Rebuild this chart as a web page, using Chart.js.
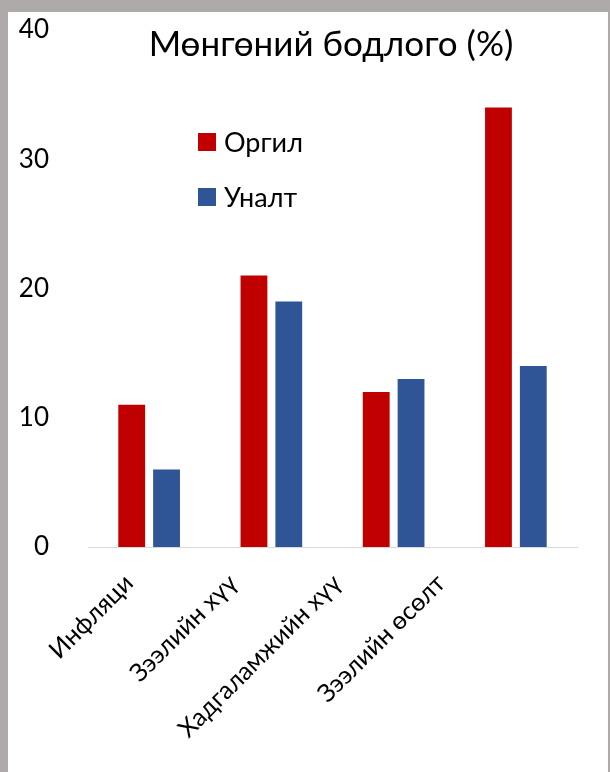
<!DOCTYPE html>
<html>
<head>
<meta charset="utf-8">
<script src="https://cdn.jsdelivr.net/npm/chart.js@4/dist/chart.umd.min.js"></script>
<style>
    html, body { margin: 0; padding: 0; background: #adaaa9; }
    #wrap { position: absolute; left: 8px; top: 12px; width: 600px; height: 760px; background: #fff; }
</style>
</head>
<body>
<div id="wrap"><canvas id="chart" width="600" height="760"></canvas></div>
<script>
const categories = ['Инфляци', 'Зээлийн хүү', 'Хадгаламжийн хүү', 'Зээлийн өсөлт'];
const orgilValues = [11, 21, 12, 34];
const unaltValues = [6, 19, 13, 14];
const seriesNames = ['Оргил', 'Уналт'];
const titleText = 'Мөнгөний бодлого (%)';

const FONT = "Lato, 'Noto Sans', sans-serif";

// title, vertical legend and the slanted category labels (the original
// spaces its labels a bit tighter than the bars, so they are drawn here)
const overlay = {
    id: 'overlay',
    afterDraw(chart) {
        const ctx = chart.ctx;
        const area = chart.chartArea;
        ctx.save();
        ctx.fillStyle = '#000';
        ctx.font = `35px ${FONT}`;
        ctx.textAlign = 'center';
        ctx.textBaseline = 'middle';
        ctx.fillText(titleText, 323, 33);

        ctx.font = `27px ${FONT}`;
        ctx.textAlign = 'left';
        chart.data.datasets.forEach((ds, i) => {
            const y = 130 + i * 55;
            ctx.fillStyle = ds.backgroundColor;
            ctx.fillRect(190, y - 9, 18, 18);
            ctx.fillStyle = '#000';
            ctx.fillText(ds.label, 216, y + 1);
        });

        ctx.font = `25px ${FONT}`;
        ctx.textAlign = 'right';
        ctx.textBaseline = 'middle';
        chart.data.labels.forEach((lab, i) => {
            ctx.save();
            ctx.translate(area.left + 41 + i * 104, area.bottom + 32);
            ctx.rotate(-Math.PI / 4);
            ctx.fillText(lab, 0, 0);
            ctx.restore();
        });
        ctx.restore();
    }
};

new Chart(document.getElementById('chart'), {
    type: 'bar',
    data: {
        labels: categories,
        datasets: [
            { label: seriesNames[0], data: orgilValues, backgroundColor: '#c00000' },
            { label: seriesNames[1], data: unaltValues, backgroundColor: '#2f5597' }
        ]
    },
    options: {
        responsive: false,
        animation: false,
        devicePixelRatio: 1,
        categoryPercentage: 0.57,
        barPercentage: 0.77,
        layout: { padding: { top: 18, right: 31, left: 0, bottom: 0 } },
        plugins: {
            legend: { display: false },
            title: { display: false },
            tooltip: { enabled: false }
        },
        scales: {
            x: {
                grid: { display: false },
                border: { color: '#d9d9d9', width: 1 },
                ticks: { display: false },
                afterFit(scale) { scale.height = 225; }
            },
            y: {
                min: 0,
                max: 40,
                grid: { display: false },
                border: { display: false },
                ticks: {
                    stepSize: 10,
                    color: '#000',
                    font: { family: FONT, size: 26 },
                    padding: 31
                },
                afterFit(scale) {
                    scale.width = 80;
                    scale.paddingTop = 0;
                    scale.paddingBottom = 0;
                }
            }
        }
    },
    plugins: [overlay]
});
</script>
</body>
</html>
